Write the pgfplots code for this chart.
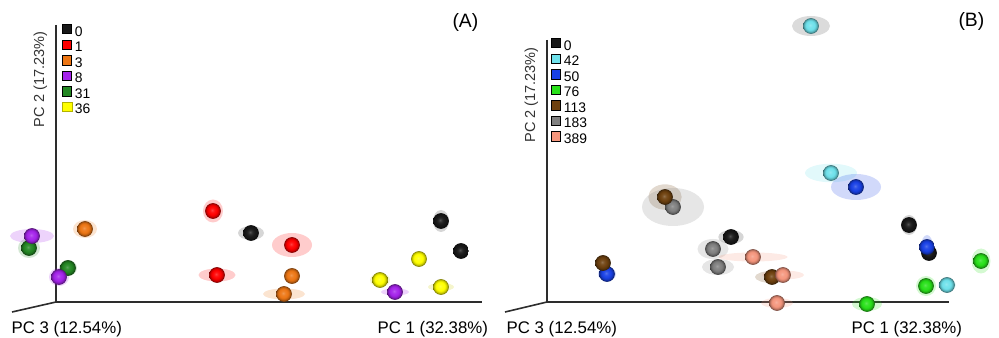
\documentclass[border=0pt]{standalone}
\usepackage{pgfplots}
\usepackage{pgfplotstable}
\usepackage{fontspec}
\setmainfont{Liberation Sans}
\pgfplotsset{compat=1.18}

% group colours
\definecolor{g0}{RGB}{25,25,25}
\definecolor{g1}{RGB}{255,0,0}
\definecolor{g3}{RGB}{237,118,20}
\definecolor{g8}{RGB}{165,35,235}
\definecolor{g31}{RGB}{35,135,35}
\definecolor{g36}{RGB}{255,255,0}
\definecolor{g42}{RGB}{110,225,235}
\definecolor{g50}{RGB}{25,65,230}
\definecolor{g76}{RGB}{40,225,25}
\definecolor{g113}{RGB}{110,65,15}
\definecolor{g183}{RGB}{128,128,128}
\definecolor{g389}{RGB}{245,150,125}
\definecolor{axisgray}{RGB}{45,45,45}

% shaded sphere marker for one group: lighter centre, dark rim
% (radius 5.9pt = 25bp scaled by 0.236)
\newcommand{\defsphere}[1]{%
  \pgfdeclareradialshading{sph#1}{\pgfpoint{-3bp}{3bp}}{%
    color(0bp)=(#1!75!white); color(7bp)=(#1!93!white); color(14bp)=(#1);
    color(20bp)=(#1!80!black); color(25bp)=(#1!45!black); color(50bp)=(#1!40!black)}%
  \pgfdeclareplotmark{sph#1}{%
    \begin{pgfscope}%
      \pgfpathcircle{\pgfpointorigin}{5.9pt}%
      \pgfusepath{clip}%
      \pgftransformscale{0.236}%
      \pgflowlevelsynccm
      \pgfuseshading{sph#1}%
    \end{pgfscope}}}
\defsphere{g0}\defsphere{g1}\defsphere{g3}\defsphere{g8}\defsphere{g31}\defsphere{g36}
\defsphere{g42}\defsphere{g50}\defsphere{g76}\defsphere{g113}\defsphere{g183}\defsphere{g389}

% confidence shell: an ellipse whose radii come from the rx / ry columns
\pgfdeclareplotmark{shell}{%
  \pgfpathellipse{\pgfpointorigin}{\pgfpoint{\shellrx pt}{0pt}}{\pgfpoint{0pt}{\shellry pt}}%
  \pgfusepathqfill}

\pgfplotsset{
  shells/.style={only marks, mark=shell, forget plot,
    visualization depends on={0.75*\thisrow{rx} \as \shellrx},
    visualization depends on={0.75*\thisrow{ry} \as \shellry},
    mark options={fill=#1, fill opacity=0.2, draw=none}},
  spheres/.style={only marks, mark=sph#1, mark size=5.9pt, forget plot},
  legsq/.style={legend image code/.code={\fill[#1] (0pt,-0.6pt) rectangle (6.9pt,6.3pt);}},
  pcoa/.style={hide axis, clip=false, x=0.75pt, y=0.75pt,
    ymin=0, ymax=338, y dir=reverse,
    legend cell align=left,
    legend style={draw=none, fill=none, inner sep=0pt, anchor=north west,
      font=\fontsize{10.4pt}{11pt}\selectfont,
      nodes={inner sep=0pt, text height=7.5pt, text depth=2.8pt},
      /tikz/every odd column/.append style={column sep=2.2pt}}},
}

\newcommand{\axfont}{\fontsize{12.6pt}{15pt}\selectfont}
\newcommand{\pcfont}{\fontsize{10.9pt}{12pt}\selectfont}
\newcommand{\tagfont}{\fontsize{14.5pt}{16pt}\selectfont}

% ---- panel A: sample positions (x, y) and shell radii (rx, ry) per day ----
\pgfplotstableread{
x   y   rx  ry
251 233 13  7
441 221 8   11
461 251 7   7
}\Azero
\pgfplotstableread{
x   y   rx  ry
213 211 10  11.5
292 245 20  12
217 275 18.5 6.5
}\Aone
\pgfplotstableread{
x   y   rx  ry
85  229 12  9
292 276 8   8
284 294 21  5.5
}\Athree
\pgfplotstableread{
x   y   rx  ry
32  236 22  7
59  277 10  9
395 292 14  3.5
}\Aeight
\pgfplotstableread{
x   y   rx  ry
29  248 11  10
68  268 9   8
}\Athirtyone
\pgfplotstableread{
x   y   rx  ry
380 280 10  7
419 259 7   7
441 287 13  4
}\Athirtysix

% ---- panel B ----
\pgfplotstableread{
x   y   rx  ry
731 237 12.7 7
909 225 8   10
929 253 7   7
}\Bzero
\pgfplotstableread{
x   y   rx  ry
831 173 26  9.3
947 285 9   6
}\Bfortytwo
\pgfplotstableread{
x   y   rx  ry
811 26  19  10
}\Bfortytwotop
\pgfplotstableread{
x   y   rx  ry
856 187 25  13
927 247 6   12
607 274 9   7
}\Bfifty
\pgfplotstableread{
x   y   rx  ry
981 261 9.5 12.5
926 286 10  10
867 304 15  7
}\Bseventysix
\pgfplotstableread{
x   y   rx  ry
603 263 7   8
665 197 16.7 12.7
772 277 17  6
}\Bonethirteen
\pgfplotstableread{
x   y   rx  ry
673 207 31  19
713 249 15.5 10
718 267 16  8
}\Boneeightythree
\pgfplotstableread{
x   y   rx  ry
753 257 34.5 4.5
783 275 21  4.5
777 303 16  5
}\Bthreeeightynine

\begin{document}
\begin{tikzpicture}

% ================= (A) =================
\begin{axis}[pcoa, xmin=0, xmax=500,
  legend style={at={(axis cs:62,24)}}]
  \addlegendimage{legsq={fill=g0}}\addlegendentry{0}
  \addlegendimage{legsq={fill=g1}}\addlegendentry{1}
  \addlegendimage{legsq={fill=g3}}\addlegendentry{3}
  \addlegendimage{legsq={fill=g8}}\addlegendentry{8}
  \addlegendimage{legsq={fill=g31}}\addlegendentry{31}
  \addlegendimage{legsq={fill=g36, draw=g36!70!black, line width=0.3pt}}\addlegendentry{36}

  % axes of the ordination space
  \addplot[axisgray, line width=1.2pt, forget plot] coordinates {(56,25) (56,302) (482,302)};
  \addplot[axisgray, line width=1.2pt, forget plot] coordinates {(56,302) (12,312)};

  \addplot[shells=black!80] table {\Azero};
  \addplot[shells=g1] table {\Aone};
  \addplot[shells=g3] table {\Athree};
  \addplot[shells=g8] table {\Aeight};
  \addplot[shells=g31] table {\Athirtyone};
  \addplot[shells=g36!80!black] table {\Athirtysix};

  \addplot[spheres=g0] table {\Azero};
  \addplot[spheres=g1] table {\Aone};
  \addplot[spheres=g3] table {\Athree};
  \addplot[spheres=g31] table {\Athirtyone};
  \addplot[spheres=g8] table {\Aeight};
  \addplot[spheres=g36] table {\Athirtysix};

  \node[anchor=base west, font=\axfont] at (axis cs:7,333) {PC 3 (12.54\%)};
  \node[anchor=base west, font=\axfont] at (axis cs:373,333) {PC 1 (32.38\%)};
  \node[anchor=base, rotate=90, font=\pcfont, text=black!80] at (axis cs:44,79.5) {PC 2 (17.23\%)};
  \node[anchor=base east, font=\tagfont] at (axis cs:483,28) {(A)};
\end{axis}

% ================= (B) =================
\begin{axis}[pcoa, xmin=500, xmax=999, at={(375pt,0pt)}, anchor=south west,
  legend style={at={(axis cs:551,38)}}]
  \addlegendimage{legsq={fill=g0}}\addlegendentry{0}
  \addlegendimage{legsq={fill=g42}}\addlegendentry{42}
  \addlegendimage{legsq={fill=g50}}\addlegendentry{50}
  \addlegendimage{legsq={fill=g76}}\addlegendentry{76}
  \addlegendimage{legsq={fill=g113}}\addlegendentry{113}
  \addlegendimage{legsq={fill=g183}}\addlegendentry{183}
  \addlegendimage{legsq={fill=g389}}\addlegendentry{389}

  \addplot[axisgray, line width=1.2pt, forget plot] coordinates {(547,40) (547,302) (949,302)};
  \addplot[axisgray, line width=1.2pt, forget plot] coordinates {(547,302) (505,312)};

  \addplot[shells=black!70] table {\Bfortytwotop};
  \addplot[shells=black!80] table {\Bzero};
  \addplot[shells=g42] table {\Bfortytwo};
  \addplot[shells=g50] table {\Bfifty};
  \addplot[shells=g76] table {\Bseventysix};
  \addplot[shells=g113] table {\Bonethirteen};
  \addplot[shells=g183] table {\Boneeightythree};
  \addplot[shells=g389] table {\Bthreeeightynine};

  \addplot[spheres=g0] table {\Bzero};
  \addplot[spheres=g42] table {\Bfortytwotop};
  \addplot[spheres=g42] table {\Bfortytwo};
  \addplot[spheres=g50] table {\Bfifty};
  \addplot[spheres=g76] table {\Bseventysix};
  \addplot[spheres=g183] table {\Boneeightythree};
  \addplot[spheres=g113] table {\Bonethirteen};
  \addplot[spheres=g389] table {\Bthreeeightynine};

  \node[anchor=base west, font=\axfont] at (axis cs:502,333) {PC 3 (12.54\%)};
  \node[anchor=base west, font=\axfont] at (axis cs:847,333) {PC 1 (32.38\%)};
  \node[anchor=base, rotate=90, font=\pcfont, text=black!80] at (axis cs:535,95) {PC 2 (17.23\%)};
  \node[anchor=base east, font=\tagfont] at (axis cs:989,27) {(B)};
\end{axis}

\pgfresetboundingbox
\useasboundingbox (0pt,0pt) rectangle (749.25pt,253.5pt);
\end{tikzpicture}
\end{document}
